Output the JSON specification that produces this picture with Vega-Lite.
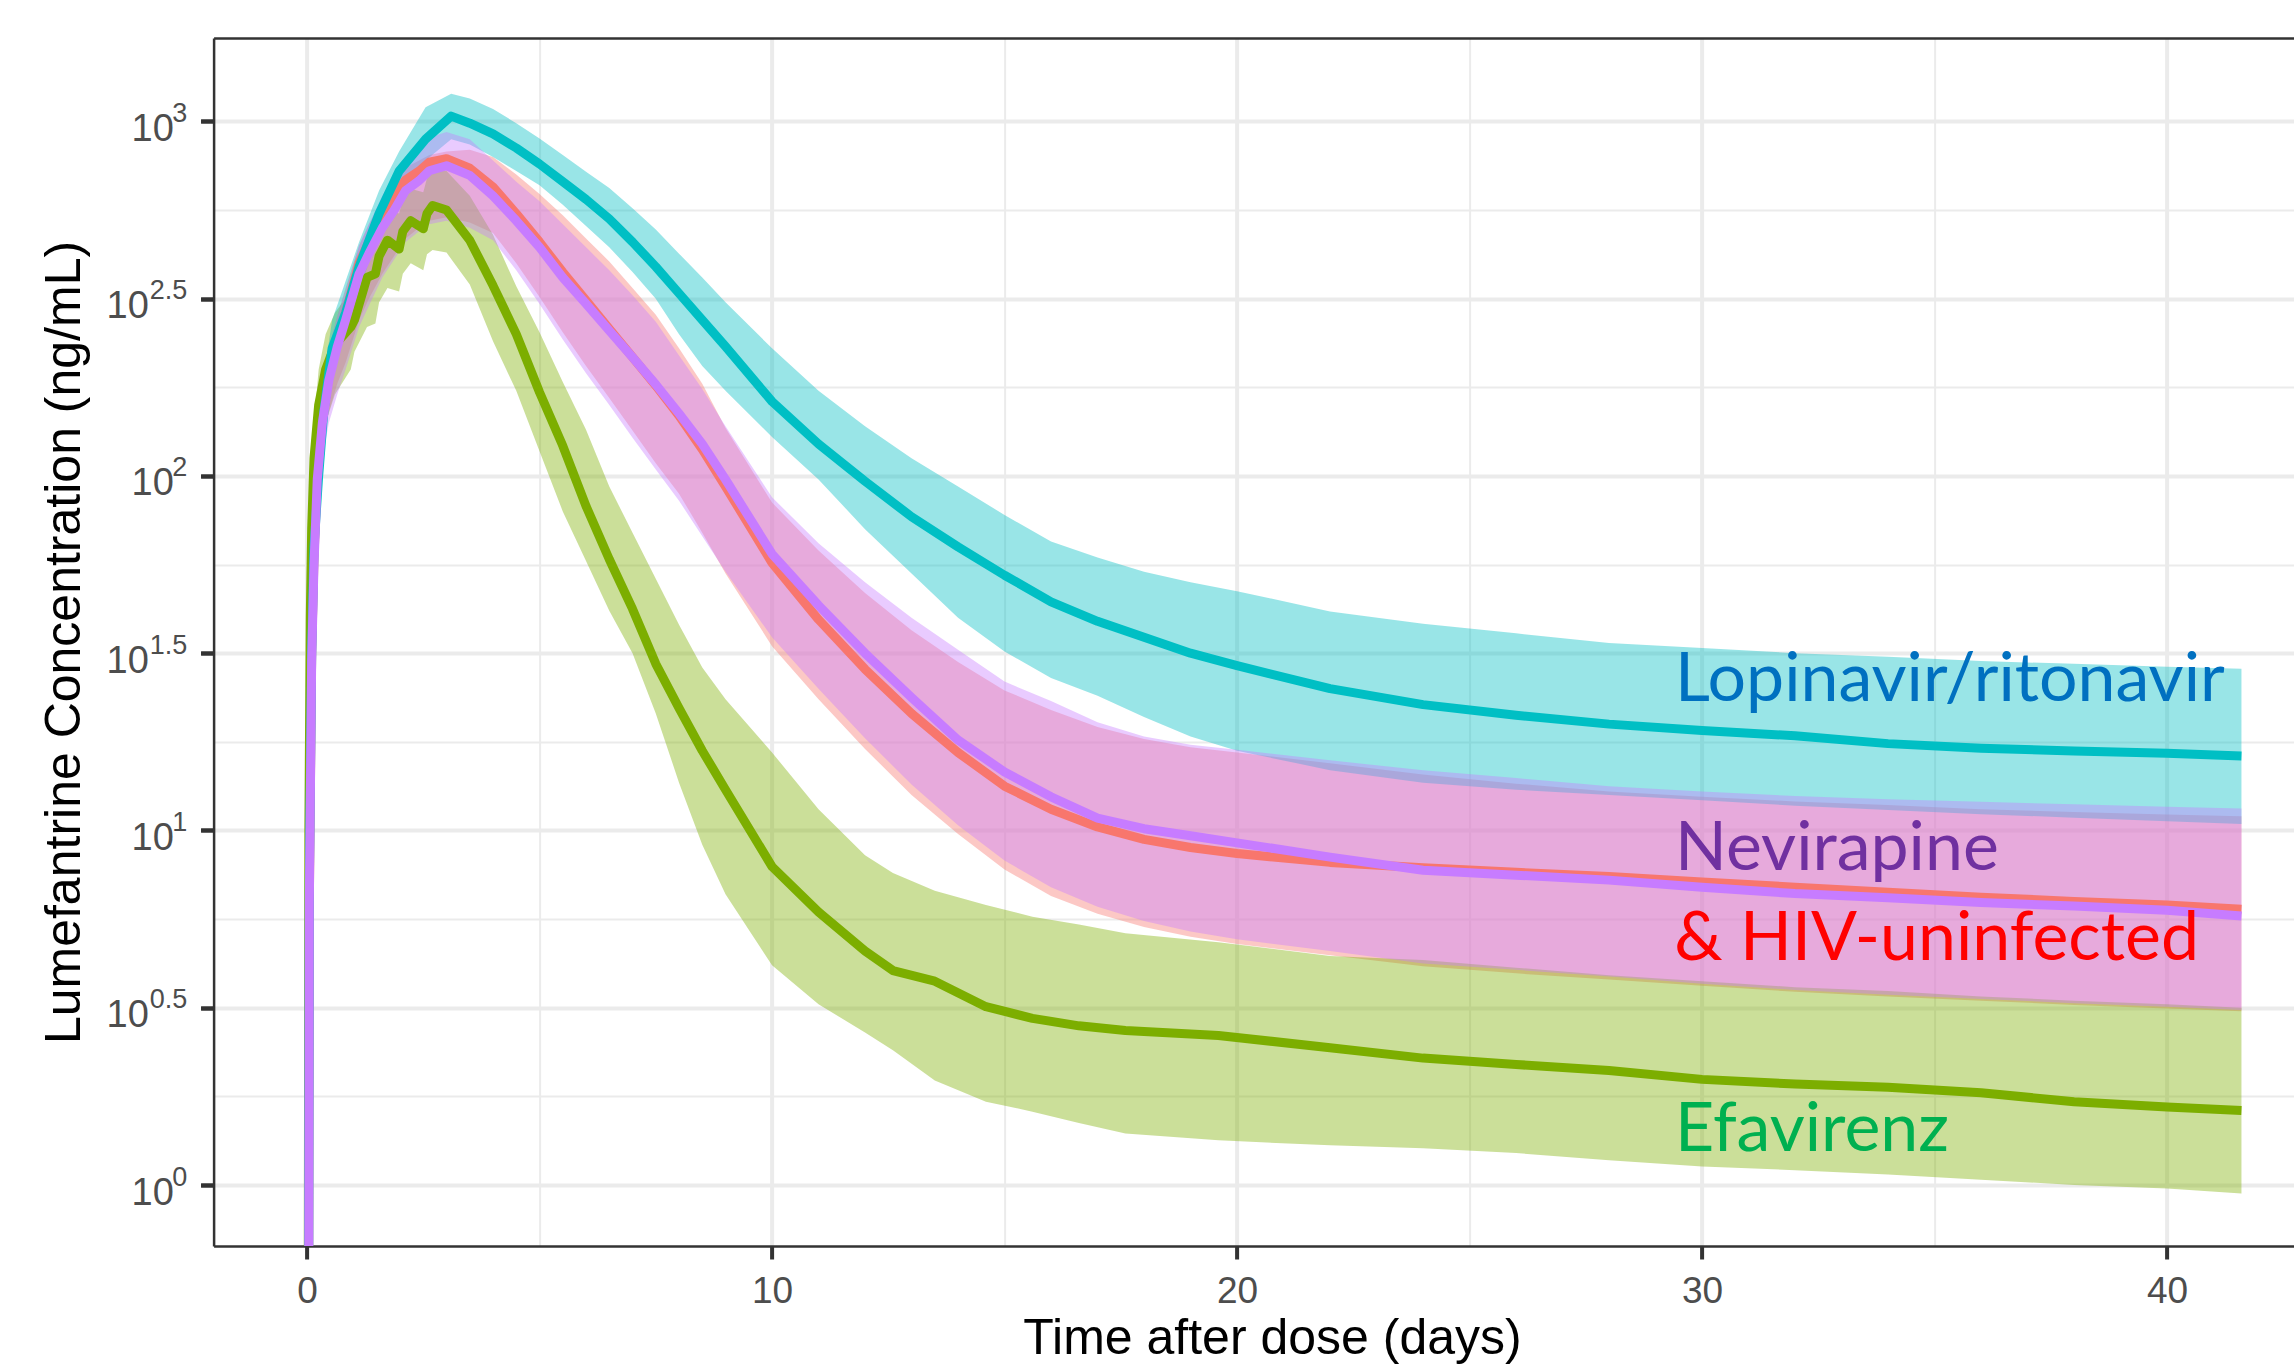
{
  "$schema": "https://vega.github.io/schema/vega-lite/v6.json",
  "width": 2080.4,
  "height": 1208,
  "autosize": {"type": "none"},
  "padding": {"left": 213.6, "top": 38, "right": 0, "bottom": 118},
  "background": "white",
  "config": {"view": {"stroke": null}, "axis": {"labelFont": "Liberation Sans", "titleFont": "Liberation Sans"}},
  "datasets": {
    "curves": [
      {"group":"HIV-uninfected","day":0,"lo":-3,"med":-3,"hi":-3},
      {"group":"HIV-uninfected","day":0.05,"lo":0.7,"med":0.8,"hi":0.9},
      {"group":"HIV-uninfected","day":0.1,"lo":1.4,"med":1.5,"hi":1.6},
      {"group":"HIV-uninfected","day":0.15,"lo":1.68,"med":1.77,"hi":1.87},
      {"group":"HIV-uninfected","day":0.22,"lo":1.92,"med":2.0,"hi":2.08},
      {"group":"HIV-uninfected","day":0.33,"lo":2.08,"med":2.16,"hi":2.24},
      {"group":"HIV-uninfected","day":0.47,"lo":2.18,"med":2.28,"hi":2.36},
      {"group":"HIV-uninfected","day":0.65,"lo":2.26,"med":2.38,"hi":2.45},
      {"group":"HIV-uninfected","day":0.83,"lo":2.32,"med":2.46,"hi":2.53},
      {"group":"HIV-uninfected","day":1.12,"lo":2.44,"med":2.6,"hi":2.65},
      {"group":"HIV-uninfected","day":1.33,"lo":2.5,"med":2.66,"hi":2.71},
      {"group":"HIV-uninfected","day":1.62,"lo":2.57,"med":2.74,"hi":2.78},
      {"group":"HIV-uninfected","day":1.87,"lo":2.62,"med":2.79,"hi":2.83},
      {"group":"HIV-uninfected","day":2.12,"lo":2.67,"med":2.835,"hi":2.87},
      {"group":"HIV-uninfected","day":2.41,"lo":2.7,"med":2.86,"hi":2.89},
      {"group":"HIV-uninfected","day":2.63,"lo":2.72,"med":2.885,"hi":2.905},
      {"group":"HIV-uninfected","day":3.0,"lo":2.73,"med":2.895,"hi":2.915},
      {"group":"HIV-uninfected","day":3.5,"lo":2.715,"med":2.868,"hi":2.92},
      {"group":"HIV-uninfected","day":4,"lo":2.685,"med":2.815,"hi":2.9},
      {"group":"HIV-uninfected","day":4.5,"lo":2.6,"med":2.74,"hi":2.85},
      {"group":"HIV-uninfected","day":5,"lo":2.505,"med":2.66,"hi":2.795},
      {"group":"HIV-uninfected","day":5.5,"lo":2.405,"med":2.575,"hi":2.735},
      {"group":"HIV-uninfected","day":6,"lo":2.31,"med":2.495,"hi":2.67},
      {"group":"HIV-uninfected","day":6.5,"lo":2.22,"med":2.415,"hi":2.605},
      {"group":"HIV-uninfected","day":7,"lo":2.128,"med":2.335,"hi":2.53},
      {"group":"HIV-uninfected","day":7.5,"lo":2.036,"med":2.255,"hi":2.455},
      {"group":"HIV-uninfected","day":8,"lo":1.95,"med":2.17,"hi":2.36},
      {"group":"HIV-uninfected","day":8.5,"lo":1.84,"med":2.075,"hi":2.26},
      {"group":"HIV-uninfected","day":9,"lo":1.725,"med":1.97,"hi":2.135},
      {"group":"HIV-uninfected","day":10,"lo":1.52,"med":1.755,"hi":1.925},
      {"group":"HIV-uninfected","day":11,"lo":1.37,"med":1.595,"hi":1.79},
      {"group":"HIV-uninfected","day":12,"lo":1.23,"med":1.455,"hi":1.67},
      {"group":"HIV-uninfected","day":13,"lo":1.1,"med":1.33,"hi":1.565},
      {"group":"HIV-uninfected","day":14,"lo":0.99,"med":1.22,"hi":1.475},
      {"group":"HIV-uninfected","day":15,"lo":0.89,"med":1.125,"hi":1.395},
      {"group":"HIV-uninfected","day":16,"lo":0.815,"med":1.06,"hi":1.34},
      {"group":"HIV-uninfected","day":17,"lo":0.765,"med":1.01,"hi":1.292},
      {"group":"HIV-uninfected","day":18,"lo":0.728,"med":0.975,"hi":1.258},
      {"group":"HIV-uninfected","day":19,"lo":0.7,"med":0.952,"hi":1.235},
      {"group":"HIV-uninfected","day":20,"lo":0.68,"med":0.935,"hi":1.22},
      {"group":"HIV-uninfected","day":22,"lo":0.648,"med":0.91,"hi":1.19},
      {"group":"HIV-uninfected","day":24,"lo":0.617,"med":0.895,"hi":1.158},
      {"group":"HIV-uninfected","day":26,"lo":0.597,"med":0.882,"hi":1.132},
      {"group":"HIV-uninfected","day":28,"lo":0.58,"med":0.87,"hi":1.11},
      {"group":"HIV-uninfected","day":30,"lo":0.562,"med":0.855,"hi":1.095},
      {"group":"HIV-uninfected","day":32,"lo":0.545,"med":0.84,"hi":1.082},
      {"group":"HIV-uninfected","day":34,"lo":0.532,"med":0.826,"hi":1.072},
      {"group":"HIV-uninfected","day":36,"lo":0.52,"med":0.812,"hi":1.06},
      {"group":"HIV-uninfected","day":38,"lo":0.508,"med":0.8,"hi":1.052},
      {"group":"HIV-uninfected","day":40,"lo":0.498,"med":0.79,"hi":1.045},
      {"group":"HIV-uninfected","day":41.6,"lo":0.49,"med":0.778,"hi":1.04},

      {"group":"Efavirenz","day":0,"lo":-3,"med":-3,"hi":-3},
      {"group":"Efavirenz","day":0.04,"lo":0.9,"med":1.0,"hi":1.1},
      {"group":"Efavirenz","day":0.07,"lo":1.45,"med":1.6,"hi":1.7},
      {"group":"Efavirenz","day":0.1,"lo":1.7,"med":1.85,"hi":1.95},
      {"group":"Efavirenz","day":0.15,"lo":1.9,"med":2.05,"hi":2.15},
      {"group":"Efavirenz","day":0.25,"lo":2.05,"med":2.2,"hi":2.3},
      {"group":"Efavirenz","day":0.4,"lo":2.15,"med":2.3,"hi":2.4},
      {"group":"Efavirenz","day":0.6,"lo":2.23,"med":2.37,"hi":2.46},
      {"group":"Efavirenz","day":0.94,"lo":2.3,"med":2.42,"hi":2.52},
      {"group":"Efavirenz","day":1.02,"lo":2.35,"med":2.44,"hi":2.55},
      {"group":"Efavirenz","day":1.29,"lo":2.42,"med":2.56,"hi":2.65},
      {"group":"Efavirenz","day":1.47,"lo":2.43,"med":2.57,"hi":2.66},
      {"group":"Efavirenz","day":1.55,"lo":2.49,"med":2.62,"hi":2.7},
      {"group":"Efavirenz","day":1.73,"lo":2.53,"med":2.665,"hi":2.75},
      {"group":"Efavirenz","day":1.98,"lo":2.52,"med":2.64,"hi":2.74},
      {"group":"Efavirenz","day":2.06,"lo":2.57,"med":2.69,"hi":2.78},
      {"group":"Efavirenz","day":2.23,"lo":2.6,"med":2.72,"hi":2.81},
      {"group":"Efavirenz","day":2.5,"lo":2.58,"med":2.697,"hi":2.8},
      {"group":"Efavirenz","day":2.58,"lo":2.625,"med":2.74,"hi":2.84},
      {"group":"Efavirenz","day":2.7,"lo":2.637,"med":2.763,"hi":2.86},
      {"group":"Efavirenz","day":3.0,"lo":2.63,"med":2.75,"hi":2.86},
      {"group":"Efavirenz","day":3.5,"lo":2.54,"med":2.665,"hi":2.79},
      {"group":"Efavirenz","day":4,"lo":2.38,"med":2.537,"hi":2.68},
      {"group":"Efavirenz","day":4.5,"lo":2.24,"med":2.4,"hi":2.535},
      {"group":"Efavirenz","day":5,"lo":2.07,"med":2.236,"hi":2.405},
      {"group":"Efavirenz","day":5.5,"lo":1.9,"med":2.085,"hi":2.265},
      {"group":"Efavirenz","day":6,"lo":1.76,"med":1.915,"hi":2.13},
      {"group":"Efavirenz","day":6.5,"lo":1.62,"med":1.765,"hi":1.97},
      {"group":"Efavirenz","day":7,"lo":1.5,"med":1.625,"hi":1.84},
      {"group":"Efavirenz","day":7.5,"lo":1.33,"med":1.47,"hi":1.71},
      {"group":"Efavirenz","day":8,"lo":1.135,"med":1.345,"hi":1.58},
      {"group":"Efavirenz","day":8.5,"lo":0.96,"med":1.225,"hi":1.46},
      {"group":"Efavirenz","day":9,"lo":0.82,"med":1.115,"hi":1.37},
      {"group":"Efavirenz","day":10,"lo":0.62,"med":0.898,"hi":1.22},
      {"group":"Efavirenz","day":11,"lo":0.51,"med":0.77,"hi":1.06},
      {"group":"Efavirenz","day":12,"lo":0.43,"med":0.66,"hi":0.93},
      {"group":"Efavirenz","day":12.6,"lo":0.38,"med":0.605,"hi":0.88},
      {"group":"Efavirenz","day":13.5,"lo":0.295,"med":0.575,"hi":0.83},
      {"group":"Efavirenz","day":14.6,"lo":0.235,"med":0.503,"hi":0.79},
      {"group":"Efavirenz","day":15.6,"lo":0.207,"med":0.47,"hi":0.757},
      {"group":"Efavirenz","day":16.6,"lo":0.175,"med":0.449,"hi":0.735},
      {"group":"Efavirenz","day":17.6,"lo":0.145,"med":0.436,"hi":0.71},
      {"group":"Efavirenz","day":19.6,"lo":0.126,"med":0.422,"hi":0.685},
      {"group":"Efavirenz","day":22,"lo":0.112,"med":0.387,"hi":0.646},
      {"group":"Efavirenz","day":24,"lo":0.104,"med":0.358,"hi":0.635},
      {"group":"Efavirenz","day":26,"lo":0.09,"med":0.34,"hi":0.613},
      {"group":"Efavirenz","day":28,"lo":0.07,"med":0.323,"hi":0.592},
      {"group":"Efavirenz","day":30,"lo":0.052,"med":0.298,"hi":0.575},
      {"group":"Efavirenz","day":32,"lo":0.042,"med":0.285,"hi":0.558},
      {"group":"Efavirenz","day":34,"lo":0.03,"med":0.276,"hi":0.547},
      {"group":"Efavirenz","day":36,"lo":0.015,"med":0.26,"hi":0.532},
      {"group":"Efavirenz","day":38,"lo":0.0,"med":0.235,"hi":0.52},
      {"group":"Efavirenz","day":40,"lo":-0.01,"med":0.22,"hi":0.51},
      {"group":"Efavirenz","day":41.6,"lo":-0.024,"med":0.21,"hi":0.5},

      {"group":"Lopinavir/ritonavir","day":0,"lo":-3,"med":-3,"hi":-3},
      {"group":"Lopinavir/ritonavir","day":0.05,"lo":0.75,"med":0.85,"hi":0.95},
      {"group":"Lopinavir/ritonavir","day":0.1,"lo":1.4,"med":1.5,"hi":1.6},
      {"group":"Lopinavir/ritonavir","day":0.15,"lo":1.7,"med":1.8,"hi":1.9},
      {"group":"Lopinavir/ritonavir","day":0.25,"lo":1.92,"med":2.0,"hi":2.1},
      {"group":"Lopinavir/ritonavir","day":0.36,"lo":2.1,"med":2.18,"hi":2.28},
      {"group":"Lopinavir/ritonavir","day":0.54,"lo":2.3,"med":2.36,"hi":2.44},
      {"group":"Lopinavir/ritonavir","day":0.83,"lo":2.4,"med":2.46,"hi":2.55},
      {"group":"Lopinavir/ritonavir","day":1.12,"lo":2.52,"med":2.59,"hi":2.66},
      {"group":"Lopinavir/ritonavir","day":1.55,"lo":2.69,"med":2.74,"hi":2.805},
      {"group":"Lopinavir/ritonavir","day":1.98,"lo":2.8,"med":2.86,"hi":2.915},
      {"group":"Lopinavir/ritonavir","day":2.55,"lo":2.89,"med":2.95,"hi":3.04},
      {"group":"Lopinavir/ritonavir","day":3.1,"lo":2.95,"med":3.015,"hi":3.078},
      {"group":"Lopinavir/ritonavir","day":3.5,"lo":2.935,"med":2.995,"hi":3.065},
      {"group":"Lopinavir/ritonavir","day":4,"lo":2.9,"med":2.965,"hi":3.035},
      {"group":"Lopinavir/ritonavir","day":4.5,"lo":2.86,"med":2.925,"hi":2.995},
      {"group":"Lopinavir/ritonavir","day":5,"lo":2.82,"med":2.88,"hi":2.952},
      {"group":"Lopinavir/ritonavir","day":5.5,"lo":2.765,"med":2.83,"hi":2.905},
      {"group":"Lopinavir/ritonavir","day":6,"lo":2.705,"med":2.78,"hi":2.858},
      {"group":"Lopinavir/ritonavir","day":6.5,"lo":2.645,"med":2.725,"hi":2.812},
      {"group":"Lopinavir/ritonavir","day":7,"lo":2.575,"med":2.66,"hi":2.755},
      {"group":"Lopinavir/ritonavir","day":7.5,"lo":2.5,"med":2.59,"hi":2.695},
      {"group":"Lopinavir/ritonavir","day":8,"lo":2.4,"med":2.515,"hi":2.627},
      {"group":"Lopinavir/ritonavir","day":8.5,"lo":2.31,"med":2.44,"hi":2.56},
      {"group":"Lopinavir/ritonavir","day":9,"lo":2.24,"med":2.365,"hi":2.49},
      {"group":"Lopinavir/ritonavir","day":10,"lo":2.11,"med":2.21,"hi":2.36},
      {"group":"Lopinavir/ritonavir","day":11,"lo":1.99,"med":2.09,"hi":2.24},
      {"group":"Lopinavir/ritonavir","day":12,"lo":1.85,"med":1.985,"hi":2.14},
      {"group":"Lopinavir/ritonavir","day":13,"lo":1.725,"med":1.885,"hi":2.05},
      {"group":"Lopinavir/ritonavir","day":14,"lo":1.6,"med":1.8,"hi":1.97},
      {"group":"Lopinavir/ritonavir","day":15,"lo":1.505,"med":1.72,"hi":1.89},
      {"group":"Lopinavir/ritonavir","day":16,"lo":1.43,"med":1.645,"hi":1.815},
      {"group":"Lopinavir/ritonavir","day":17,"lo":1.38,"med":1.59,"hi":1.77},
      {"group":"Lopinavir/ritonavir","day":18,"lo":1.32,"med":1.545,"hi":1.73},
      {"group":"Lopinavir/ritonavir","day":19,"lo":1.265,"med":1.5,"hi":1.7},
      {"group":"Lopinavir/ritonavir","day":20,"lo":1.225,"med":1.465,"hi":1.675},
      {"group":"Lopinavir/ritonavir","day":22,"lo":1.17,"med":1.4,"hi":1.618},
      {"group":"Lopinavir/ritonavir","day":24,"lo":1.135,"med":1.355,"hi":1.583},
      {"group":"Lopinavir/ritonavir","day":26,"lo":1.115,"med":1.325,"hi":1.556},
      {"group":"Lopinavir/ritonavir","day":28,"lo":1.1,"med":1.3,"hi":1.529},
      {"group":"Lopinavir/ritonavir","day":30,"lo":1.085,"med":1.282,"hi":1.515},
      {"group":"Lopinavir/ritonavir","day":32,"lo":1.07,"med":1.267,"hi":1.5},
      {"group":"Lopinavir/ritonavir","day":34,"lo":1.058,"med":1.245,"hi":1.49},
      {"group":"Lopinavir/ritonavir","day":36,"lo":1.046,"med":1.232,"hi":1.478},
      {"group":"Lopinavir/ritonavir","day":38,"lo":1.036,"med":1.224,"hi":1.47},
      {"group":"Lopinavir/ritonavir","day":40,"lo":1.026,"med":1.218,"hi":1.462},
      {"group":"Lopinavir/ritonavir","day":41.6,"lo":1.018,"med":1.21,"hi":1.456},

      {"group":"Nevirapine","day":0,"lo":-3,"med":-3,"hi":-3},
      {"group":"Nevirapine","day":0.05,"lo":0.7,"med":0.8,"hi":0.9},
      {"group":"Nevirapine","day":0.1,"lo":1.38,"med":1.48,"hi":1.58},
      {"group":"Nevirapine","day":0.15,"lo":1.65,"med":1.75,"hi":1.85},
      {"group":"Nevirapine","day":0.22,"lo":1.9,"med":1.99,"hi":2.08},
      {"group":"Nevirapine","day":0.33,"lo":2.05,"med":2.15,"hi":2.24},
      {"group":"Nevirapine","day":0.47,"lo":2.15,"med":2.27,"hi":2.36},
      {"group":"Nevirapine","day":0.65,"lo":2.23,"med":2.364,"hi":2.45},
      {"group":"Nevirapine","day":0.83,"lo":2.3,"med":2.44,"hi":2.52},
      {"group":"Nevirapine","day":1.12,"lo":2.42,"med":2.57,"hi":2.65},
      {"group":"Nevirapine","day":1.33,"lo":2.48,"med":2.627,"hi":2.71},
      {"group":"Nevirapine","day":1.62,"lo":2.56,"med":2.7,"hi":2.79},
      {"group":"Nevirapine","day":1.87,"lo":2.61,"med":2.749,"hi":2.85},
      {"group":"Nevirapine","day":2.12,"lo":2.66,"med":2.805,"hi":2.9},
      {"group":"Nevirapine","day":2.41,"lo":2.69,"med":2.833,"hi":2.93},
      {"group":"Nevirapine","day":2.63,"lo":2.71,"med":2.861,"hi":2.955},
      {"group":"Nevirapine","day":3.0,"lo":2.72,"med":2.875,"hi":2.97},
      {"group":"Nevirapine","day":3.5,"lo":2.7,"med":2.848,"hi":2.95},
      {"group":"Nevirapine","day":4,"lo":2.665,"med":2.79,"hi":2.89},
      {"group":"Nevirapine","day":4.5,"lo":2.58,"med":2.72,"hi":2.83},
      {"group":"Nevirapine","day":5,"lo":2.485,"med":2.645,"hi":2.775},
      {"group":"Nevirapine","day":5.5,"lo":2.385,"med":2.56,"hi":2.71},
      {"group":"Nevirapine","day":6,"lo":2.29,"med":2.486,"hi":2.645},
      {"group":"Nevirapine","day":6.5,"lo":2.2,"med":2.41,"hi":2.58},
      {"group":"Nevirapine","day":7,"lo":2.108,"med":2.335,"hi":2.51},
      {"group":"Nevirapine","day":7.5,"lo":2.018,"med":2.258,"hi":2.435},
      {"group":"Nevirapine","day":8,"lo":1.93,"med":2.176,"hi":2.34},
      {"group":"Nevirapine","day":8.5,"lo":1.83,"med":2.09,"hi":2.245},
      {"group":"Nevirapine","day":9,"lo":1.73,"med":1.99,"hi":2.14},
      {"group":"Nevirapine","day":10,"lo":1.545,"med":1.78,"hi":1.94},
      {"group":"Nevirapine","day":11,"lo":1.4,"med":1.635,"hi":1.81},
      {"group":"Nevirapine","day":12,"lo":1.26,"med":1.5,"hi":1.7},
      {"group":"Nevirapine","day":13,"lo":1.13,"med":1.375,"hi":1.6},
      {"group":"Nevirapine","day":14,"lo":1.015,"med":1.255,"hi":1.51},
      {"group":"Nevirapine","day":15,"lo":0.915,"med":1.165,"hi":1.42},
      {"group":"Nevirapine","day":16,"lo":0.84,"med":1.095,"hi":1.365},
      {"group":"Nevirapine","day":17,"lo":0.785,"med":1.035,"hi":1.305},
      {"group":"Nevirapine","day":18,"lo":0.745,"med":1.005,"hi":1.265},
      {"group":"Nevirapine","day":19,"lo":0.715,"med":0.985,"hi":1.242},
      {"group":"Nevirapine","day":20,"lo":0.693,"med":0.965,"hi":1.228},
      {"group":"Nevirapine","day":22,"lo":0.66,"med":0.925,"hi":1.198},
      {"group":"Nevirapine","day":24,"lo":0.625,"med":0.888,"hi":1.17},
      {"group":"Nevirapine","day":26,"lo":0.607,"med":0.874,"hi":1.148},
      {"group":"Nevirapine","day":28,"lo":0.588,"med":0.86,"hi":1.125},
      {"group":"Nevirapine","day":30,"lo":0.568,"med":0.84,"hi":1.11},
      {"group":"Nevirapine","day":32,"lo":0.55,"med":0.822,"hi":1.097},
      {"group":"Nevirapine","day":34,"lo":0.537,"med":0.81,"hi":1.088},
      {"group":"Nevirapine","day":36,"lo":0.525,"med":0.797,"hi":1.081},
      {"group":"Nevirapine","day":38,"lo":0.513,"med":0.787,"hi":1.074},
      {"group":"Nevirapine","day":40,"lo":0.503,"med":0.775,"hi":1.067},
      {"group":"Nevirapine","day":41.6,"lo":0.494,"med":0.759,"hi":1.062}
    ],
    "labels": [
      {"label":"Lopinavir/ritonavir","day":29.42,"pos":1.365},
      {"label":"Nevirapine","day":29.42,"pos":0.888},
      {"label":"& HIV-uninfected","day":29.4,"pos":0.635},
      {"label":"Efavirenz","day":29.42,"pos":0.096}
    ]
  },
  "resolve": {"axis": {"x": "independent", "y": "independent"}},
  "layer": [
    {
      "data": {"name": "curves"},
      "mark": {"type": "area", "fillOpacity": 0.4, "clip": true, "interpolate": "linear"},
      "encoding": {
        "x": {
          "field": "day", "type": "quantitative",
          "scale": {"domain": [-2.009, 42.73], "nice": false, "zero": false},
          "axis": {
            "orient": "bottom", "values": [0, 10, 20, 30, 40], "format": "d",
            "title": "Time after dose (days)", "titleFontSize": 50, "titleFontWeight": "normal", "titleColor": "#000000",
            "titleX": 1058.4, "titleY": 107, "titleBaseline": "alphabetic", "titleAlign": "center",
            "labelFontSize": 37, "labelColor": "#4D4D4D", "labelPadding": 43, "labelBaseline": "alphabetic",
            "labelFlush": false, "labelOverlap": false,
            "tickSize": 13, "tickWidth": 4, "tickColor": "#333333",
            "domainColor": "#333333", "domainWidth": 2.5,
            "grid": true, "gridColor": "#EBEBEB", "gridWidth": 4
          }
        },
        "y": {
          "field": "lo", "type": "quantitative",
          "scale": {"domain": [-0.172, 3.2353], "nice": false, "zero": false},
          "axis": {
            "orient": "left", "values": [0, 0.5, 1, 1.5, 2, 2.5, 3],
            "labelExpr": "'10'", "labelFontSize": 38, "labelColor": "#4D4D4D",
            "labelAlign": "right", "labelBaseline": "alphabetic", "labelOffset": 19,
            "labelPadding": {"condition": {"test": "datum.value % 1 != 0", "value": 52.3}, "value": 27.3},
            "labelFlush": false, "labelOverlap": false,
            "tickSize": 13, "tickWidth": 4, "tickColor": "#333333",
            "domainColor": "#333333", "domainWidth": 2.5,
            "grid": true, "gridColor": "#EBEBEB", "gridWidth": 4,
            "title": "Lumefantrine Concentration (ng/mL)", "titleFontSize": 50, "titleFontWeight": "normal", "titleColor": "#000000",
            "titleAngle": -90, "titleX": -134, "titleY": 604, "titleBaseline": "alphabetic", "titleAlign": "center"
          }
        },
        "y2": {"field": "hi"},
        "fill": {
          "field": "group", "type": "nominal",
          "scale": {"domain": ["HIV-uninfected", "Efavirenz", "Lopinavir/ritonavir", "Nevirapine"], "range": ["#F8766D", "#7CAE00", "#00BFC4", "#C77CFF"]},
          "legend": null
        }
      }
    },
    {
      "data": {"name": "curves"},
      "mark": {"type": "line", "strokeWidth": 9, "clip": true, "interpolate": "linear", "strokeJoin": "round"},
      "encoding": {
        "x": {
          "field": "day", "type": "quantitative",
          "scale": {"domain": [-2.009, 42.73], "nice": false, "zero": false},
          "axis": {
            "orient": "top", "values": [5, 15, 25, 35], "labels": false, "ticks": false, "title": null,
            "domain": true, "domainColor": "#333333", "domainWidth": 2.5,
            "grid": true, "gridColor": "#EBEBEB", "gridWidth": 2
          }
        },
        "y": {
          "field": "med", "type": "quantitative",
          "scale": {"domain": [-0.172, 3.2353], "nice": false, "zero": false},
          "axis": {
            "orient": "left", "values": [0, 0.5, 1, 1.5, 2, 2.5, 3],
            "labelExpr": "format(datum.value, '.1~f')", "labelFontSize": 27, "labelColor": "#4D4D4D",
            "labelAlign": "right", "labelBaseline": "alphabetic", "labelPadding": 13.9,
            "labelFlush": false, "labelOverlap": false,
            "tickSize": 13, "tickWidth": 4, "tickColor": "#333333",
            "domain": false, "grid": false, "title": null
          }
        },
        "stroke": {
          "field": "group", "type": "nominal",
          "scale": {"domain": ["HIV-uninfected", "Efavirenz", "Lopinavir/ritonavir", "Nevirapine"], "range": ["#F8766D", "#7CAE00", "#00BFC4", "#C77CFF"]},
          "legend": null
        }
      }
    },
    {
      "data": {"name": "labels"},
      "mark": {"type": "text", "font": "Lato", "fontSize": 68, "align": "left", "baseline": "alphabetic"},
      "encoding": {
        "x": {
          "field": "day", "type": "quantitative",
          "scale": {"domain": [-2.009, 42.73], "nice": false, "zero": false},
          "axis": null
        },
        "y": {
          "field": "pos", "type": "quantitative",
          "scale": {"domain": [-0.172, 3.2353], "nice": false, "zero": false},
          "axis": {
            "orient": "left", "values": [0.25, 0.75, 1.25, 1.75, 2.25, 2.75],
            "labels": false, "ticks": false, "domain": false, "title": null,
            "grid": true, "gridColor": "#EBEBEB", "gridWidth": 2
          }
        },
        "text": {"field": "label", "type": "nominal"},
        "color": {
          "field": "label", "type": "nominal",
          "scale": {"domain": ["Lopinavir/ritonavir", "Nevirapine", "& HIV-uninfected", "Efavirenz"], "range": ["#0070C0", "#7030A0", "#FF0000", "#00B050"]},
          "legend": null
        }
      }
    }
  ]
}
